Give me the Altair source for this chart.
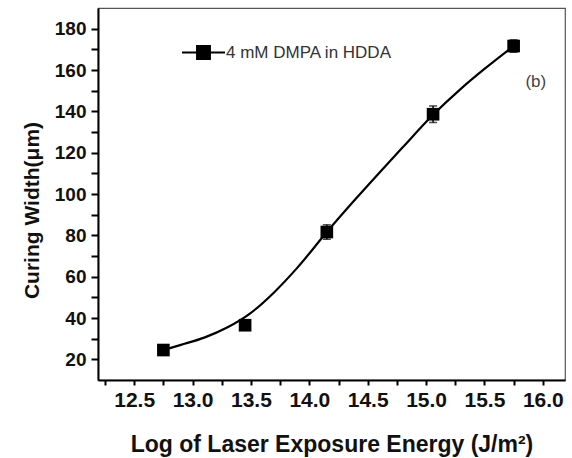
import altair as alt
import pandas as pd

# measured points
energy = [12.75, 13.45, 14.15, 15.06, 15.75]
width = [24.5, 36.5, 81.6, 138.6, 171.6]
err = [2.0, 2.0, 3.5, 4.0, 3.0]

# fitted curve
curve_x = [12.75, 12.9, 13.1, 13.3, 13.5, 13.7, 13.9, 14.15, 14.4, 14.6, 14.8, 15.06, 15.3, 15.5, 15.75]
curve_y = [24.5, 27.0, 30.5, 35.5, 42.5, 52.5, 64.5, 81.6, 97.8, 110.3, 122.6, 138.3, 151.0, 160.5, 171.6]

series_name = "4 mM DMPA in HDDA"
x_ticks = [12.25 + 0.25 * i for i in range(16)]
y_ticks = [10 * i for i in range(2, 19)]

pts = pd.DataFrame({"x": energy, "y": width, "e": err})
pts["lo"] = pts["y"] - pts["e"]
pts["hi"] = pts["y"] + pts["e"]
cur = pd.DataFrame({"x": curve_x, "y": curve_y, "s": [series_name] * len(curve_x)})
ann = pd.DataFrame({"x": [15.94], "y": [154.0], "t": ["(b)"]})

FONT = "Liberation Sans"

xscale = alt.Scale(domain=[12.19, 16.19], nice=False, zero=False)
yscale = alt.Scale(domain=[10, 190], nice=False, zero=False)

xaxis = alt.Axis(
    title="Log of Laser Exposure Energy (J/m²)",
    values=x_ticks,
    format=".1f",
    labelExpr="(datum.value * 2) % 1 == 0 ? datum.label : ''",
    labelOverlap=False,
    grid=False, tickSize=5, tickWidth=2, tickColor="black",
    domainColor="black", domainWidth=2,
    labelFont=FONT, labelFontSize=21, labelFontWeight="bold", labelColor="#111",
    labelPadding=4,
    titleFont=FONT, titleFontSize=23, titleFontWeight="bold", titleColor="#111",
    titlePadding=23,
)
yaxis = alt.Axis(
    title="Curing Width(μm)",
    values=y_ticks,
    labelExpr="datum.value % 20 == 0 ? datum.label : ''",
    labelOverlap=False,
    grid=False, tickSize=7, tickWidth=2, tickColor="black",
    domainColor="black", domainWidth=2,
    labelFont=FONT, labelFontSize=19, labelFontWeight="bold", labelColor="#111",
    labelPadding=5,
    titleFont=FONT, titleFontSize=21, titleFontWeight="bold", titleColor="#111",
    titlePadding=12, titleY=202,
)

X = alt.X("x:Q", scale=xscale, axis=xaxis)

line = alt.Chart(cur).mark_line(interpolate="monotone", strokeWidth=2.2).encode(
    x=X,
    y=alt.Y("y:Q", scale=yscale, axis=yaxis),
    color=alt.Color(
        "s:N",
        scale=alt.Scale(range=["black"]),
        legend=alt.Legend(
            title=None, orient="none", legendX=83, legendY=22,
            symbolType="M-1,0L1,0M-0.3,-0.3L0.3,-0.3L0.3,0.3L-0.3,0.3Z",
            symbolSize=1849, symbolStrokeWidth=2, symbolFillColor="black",
            symbolStrokeColor="black",
            labelFont=FONT, labelFontSize=17, labelColor="#333", labelOffset=0,
            labelLimit=0, padding=0,
        ),
    ),
)

bars = alt.Chart(pts).mark_rule(color="black", strokeWidth=1.5).encode(
    x=X, y=alt.Y("lo:Q", scale=yscale, axis=yaxis), y2="hi:Q"
)
caps_hi = alt.Chart(pts).mark_tick(color="black", thickness=1.5, size=8, orient="horizontal").encode(
    x=X, y=alt.Y("hi:Q", scale=yscale, axis=yaxis)
)
caps_lo = alt.Chart(pts).mark_tick(color="black", thickness=1.5, size=8, orient="horizontal").encode(
    x=X, y=alt.Y("lo:Q", scale=yscale, axis=yaxis)
)
squares = alt.Chart(pts).mark_square(size=160, color="black", opacity=1).encode(
    x=X, y=alt.Y("y:Q", scale=yscale, axis=yaxis)
)
label = alt.Chart(ann).mark_text(font=FONT, fontSize=17, color="#444").encode(
    x=X, y=alt.Y("y:Q", scale=yscale, axis=yaxis), text="t:N"
)

chart = alt.layer(line, bars, caps_hi, caps_lo, squares, label).properties(
    width=467, height=372,
    autosize=alt.AutoSizeParams(type="none"),
    padding={"left": 98, "top": 8, "right": 7, "bottom": 78},
    background="white",
).configure_view(stroke="#555", strokeWidth=1.2).configure_axis(labelOverlap=False)

chart.save("out.html", embed_options={"renderer": "svg", "actions": False})
